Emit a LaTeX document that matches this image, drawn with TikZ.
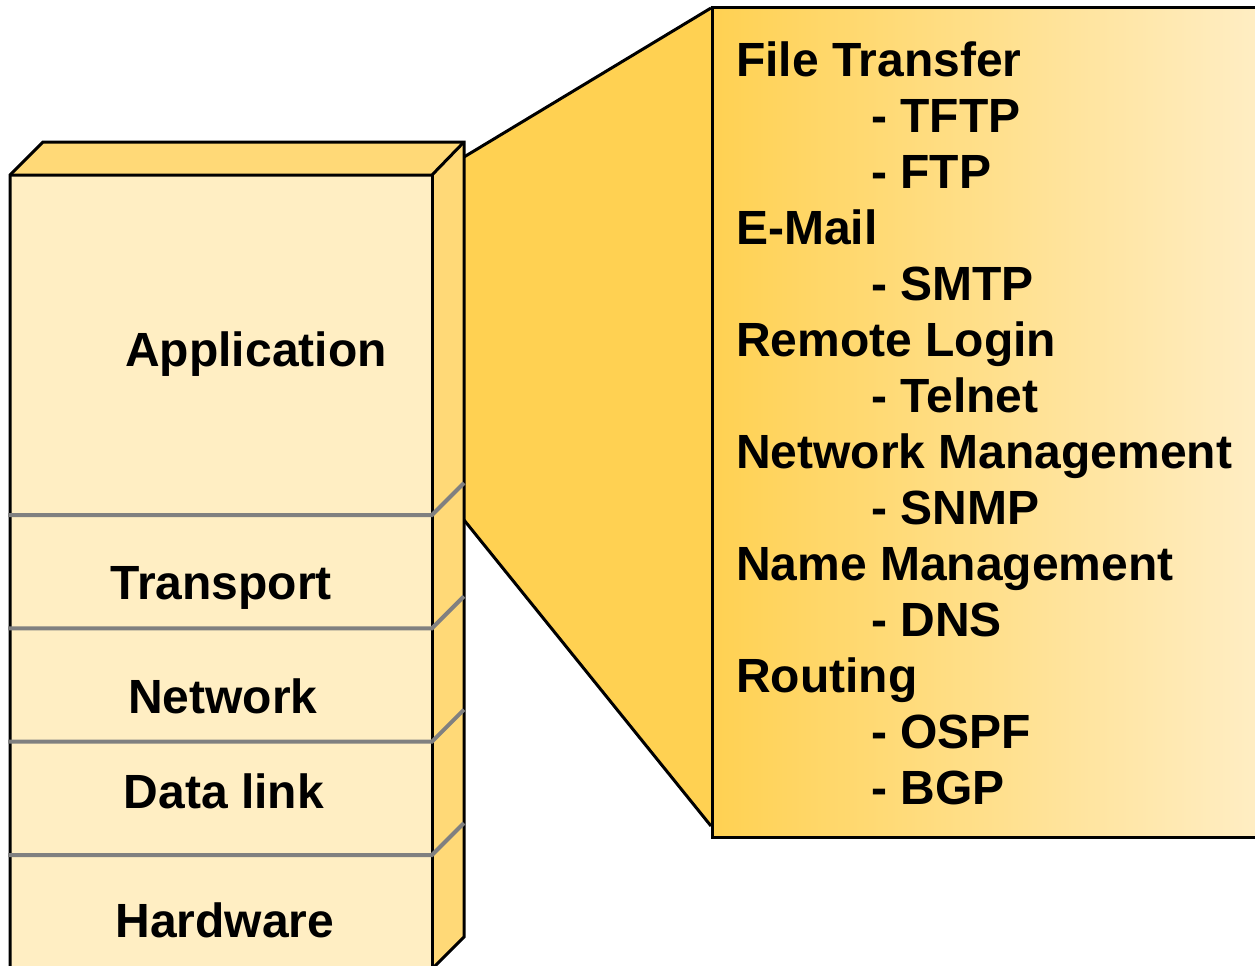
\documentclass[tikz,border=0pt]{standalone}
\usepackage{fontspec}
\setmainfont{Liberation Sans}

\definecolor{frontface}{HTML}{FFEEC3}
\definecolor{sideface}{HTML}{FFD977}
\definecolor{funnel}{HTML}{FFD152}
\definecolor{boxlight}{HTML}{FFEEC6}
\definecolor{divider}{HTML}{808080}

\tikzset{
    layername/.style={font=\fontsize{48}{56}\selectfont\bfseries, anchor=base, inner sep=0pt},
    protoname/.style={font=\fontsize{48}{56}\selectfont\bfseries, anchor=base west, inner sep=0pt},
    edge/.style={draw=black, line width=3pt},
}

\begin{document}
\begin{tikzpicture}[x=1pt, y=-1pt, line join=miter]
    \useasboundingbox (0, 0) rectangle (1255, 966);
    \clip (0, 0) rectangle (1255, 966);

    % 展开的梯形
    \fill[funnel] (464, 157) -- (711, 8) -- (711, 826) -- (464, 520) -- cycle;
    \draw[edge] (464, 157) -- (711, 8);
    \draw[edge] (464, 520) -- (711, 826);

    % 右侧列表框
    \shade[left color=funnel, right color=boxlight] (712, 8) rectangle (1270, 837);
    \draw[edge] (1270, 8) -- (712, 8) -- (712, 837) -- (1270, 837);

    % 协议栈
    \begin{scope}
        \fill[frontface] (10, 175) rectangle (432, 975);
        \fill[sideface] (10, 175) -- (43, 142) -- (464, 142) -- (432, 175) -- cycle;
        \fill[sideface] (432, 175) -- (464, 142) -- (464, 937) -- (432, 969) -- cycle;
        \draw[edge] (10, 975) -- (10, 175) -- (43, 142) -- (464, 142) -- (464, 937) -- (432, 969);
        \draw[edge] (10, 175) -- (432, 175) -- (464, 142);
        \draw[edge] (432, 175) -- (432, 975);

        % 分层线
        \foreach \y in {515, 628.3, 741.6, 855} {
            \draw[divider, line width=4pt] (8, \y) -- (432, \y) -- (464, \y-32);
        }

        % 层名
        \node[layername] (application) at (256, 366) {Application};
        \node[layername] (transport) at (221, 599) {Transport};
        \node[layername] (network) at (223, 713) {Network};
        \node[layername] (datalink) at (224, 808) {Data link};
        \node[layername] (hardware) at (225, 937) {Hardware};
    \end{scope}

    % 应用层协议
    \foreach \txt/\ind [count=\i from 0] in {File Transfer/0, - TFTP/1, - FTP/1, E-Mail/0, - SMTP/1,
        Remote Login/0, - Telnet/1, Network Management/0, - SNMP/1, Name Management/0, - DNS/1,
        Routing/0, - OSPF/1, - BGP/1} {
        \node[protoname] (proto\i) at (736 + 135*\ind, 76 + 56*\i) {\txt};
    }
\end{tikzpicture}
\end{document}
